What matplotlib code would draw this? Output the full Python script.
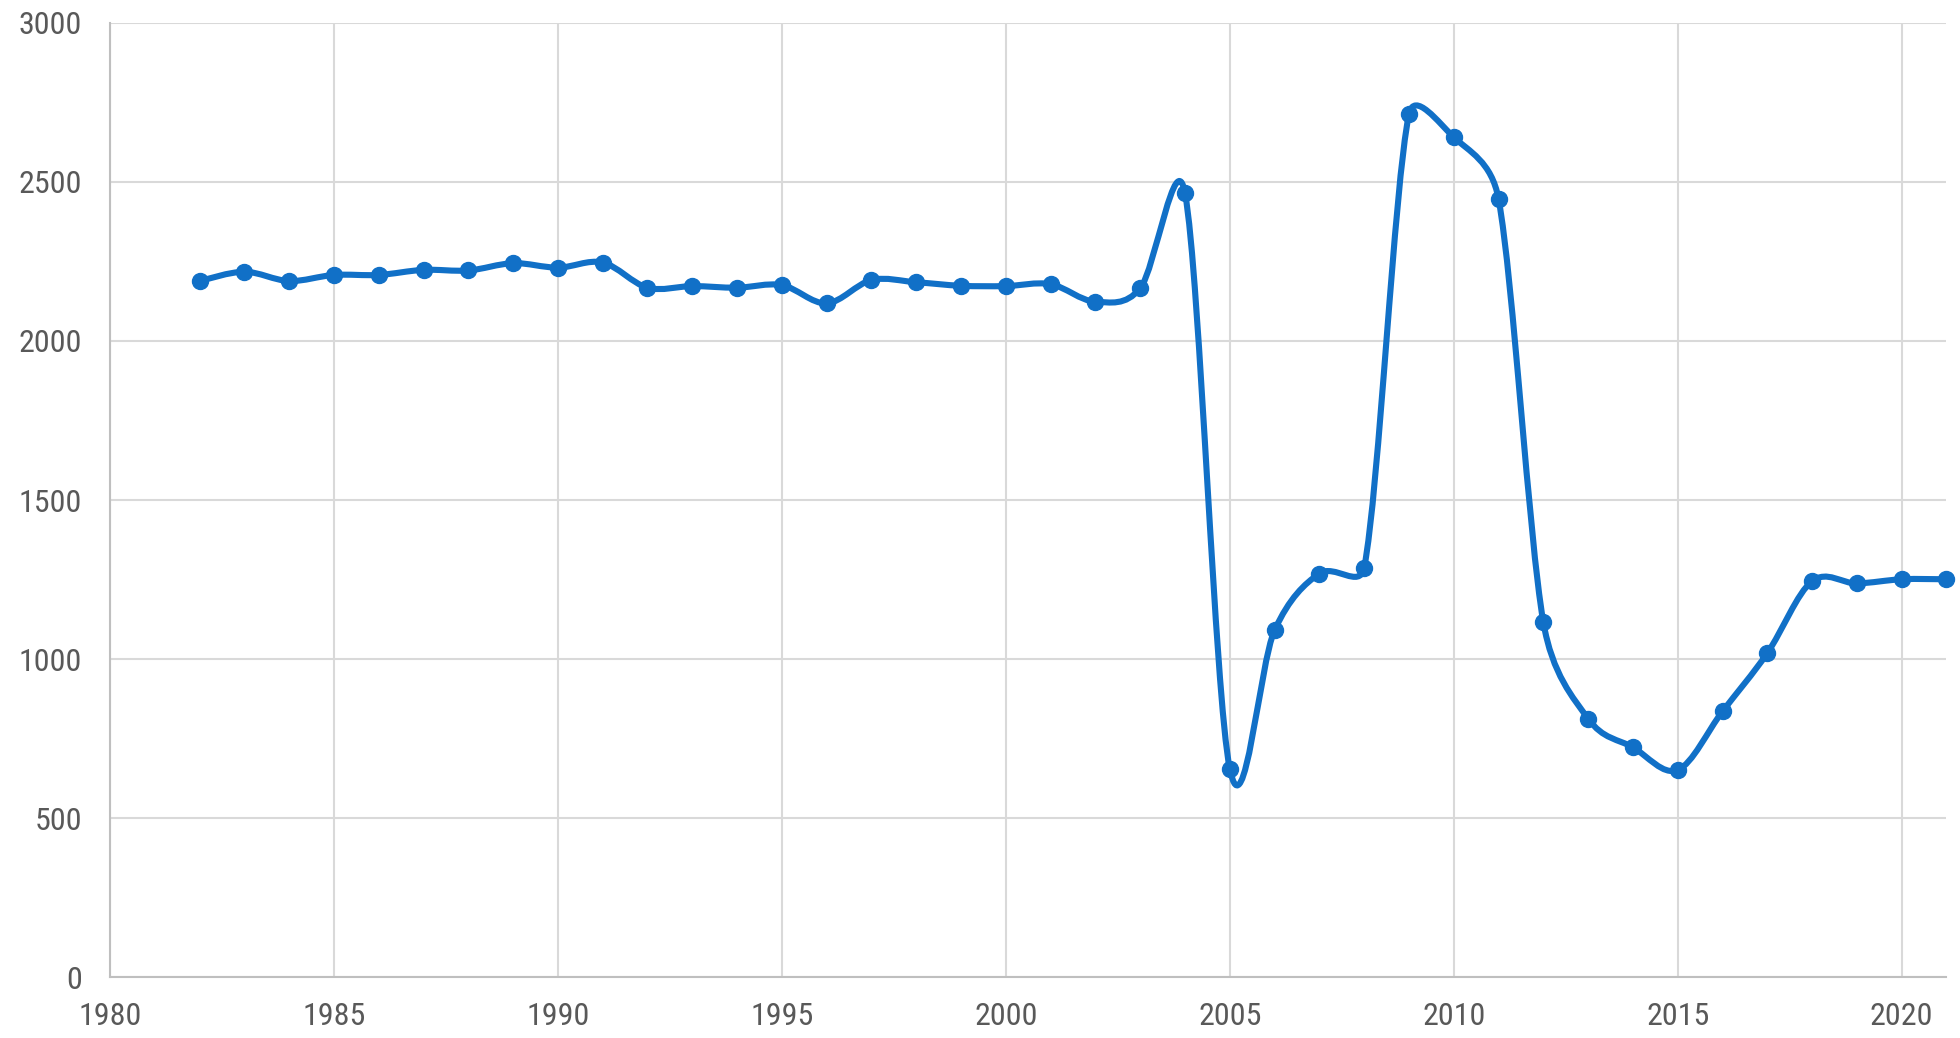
import matplotlib.pyplot as plt
import numpy as np
from matplotlib.path import Path
from matplotlib.patches import PathPatch

years = list(range(1982, 2022))
values = [2188, 2217, 2188, 2207, 2207, 2223, 2221, 2244, 2230, 2246,
          2167, 2172, 2167, 2175, 2118, 2191, 2184, 2173, 2172, 2178,
          2123, 2165, 2464, 656, 1091, 1269, 1287, 2712, 2640, 2446,
          1116, 813, 723, 652, 836, 1019, 1245, 1238, 1251, 1251]

xticks = [1980, 1985, 1990, 1995, 2000, 2005, 2010, 2015, 2020]
yticks = [0, 500, 1000, 1500, 2000, 2500, 3000]

blue = '#1170C7'

plt.rcParams['font.family'] = ['Roboto Condensed', 'DejaVu Sans']
plt.rcParams['font.stretch'] = 'condensed'

fig = plt.figure(figsize=(19.6, 10.38), dpi=100)
ax = fig.add_axes([0.0561, 0.0583, 0.937, 0.9200])
ax.set_xlim(1980, 2021)
ax.set_ylim(0, 3000)

# smoothed line like a spreadsheet "smooth line": bezier segments,
# arm = tangent/6, but never longer than half the neighbouring segment (screen px)
pts = ax.transData.transform(np.column_stack([years, values]).astype(float))
n = len(pts)
cin = pts.copy()
cout = pts.copy()
for i in range(n):
    p0 = pts[max(i - 1, 0)]
    p2 = pts[min(i + 1, n - 1)]
    t = p2 - p0
    tl = np.hypot(*t)
    if tl == 0:
        continue
    u = t / tl
    d01 = np.hypot(*(pts[i] - p0))
    d12 = np.hypot(*(p2 - pts[i]))
    cin[i] = pts[i] - u * min(tl / 6, 0.5 * d01)
    cout[i] = pts[i] + u * min(tl / 6, 0.5 * d12)
verts = [pts[0]]
codes = [Path.MOVETO]
for i in range(n - 1):
    verts += [cout[i], cin[i + 1], pts[i + 1]]
    codes += [Path.CURVE4] * 3
verts = ax.transData.inverted().transform(np.array(verts))
ax.add_patch(PathPatch(Path(verts, codes), facecolor='none', edgecolor=blue,
                       lw=4.4, capstyle='round', joinstyle='round', zorder=3))
ax.plot(years, values, linestyle='none', marker='o', markersize=11.5,
        color=blue, zorder=4, clip_on=False)

ax.set_xticks(xticks)
ax.set_yticks(yticks)
ax.grid(True, color='#d9d9d9', linewidth=1.5)
ax.set_axisbelow(True)
for s in ['top', 'right']:
    ax.spines[s].set_visible(False)
for s in ['left', 'bottom']:
    ax.spines[s].set_color('#bfbfbf')
    ax.spines[s].set_linewidth(1.5)
ax.tick_params(length=0, labelsize=23, labelcolor='#595959')
ax.tick_params(axis='y', pad=20)
ax.tick_params(axis='x', pad=18)

fig.savefig('out.png', dpi=100)
